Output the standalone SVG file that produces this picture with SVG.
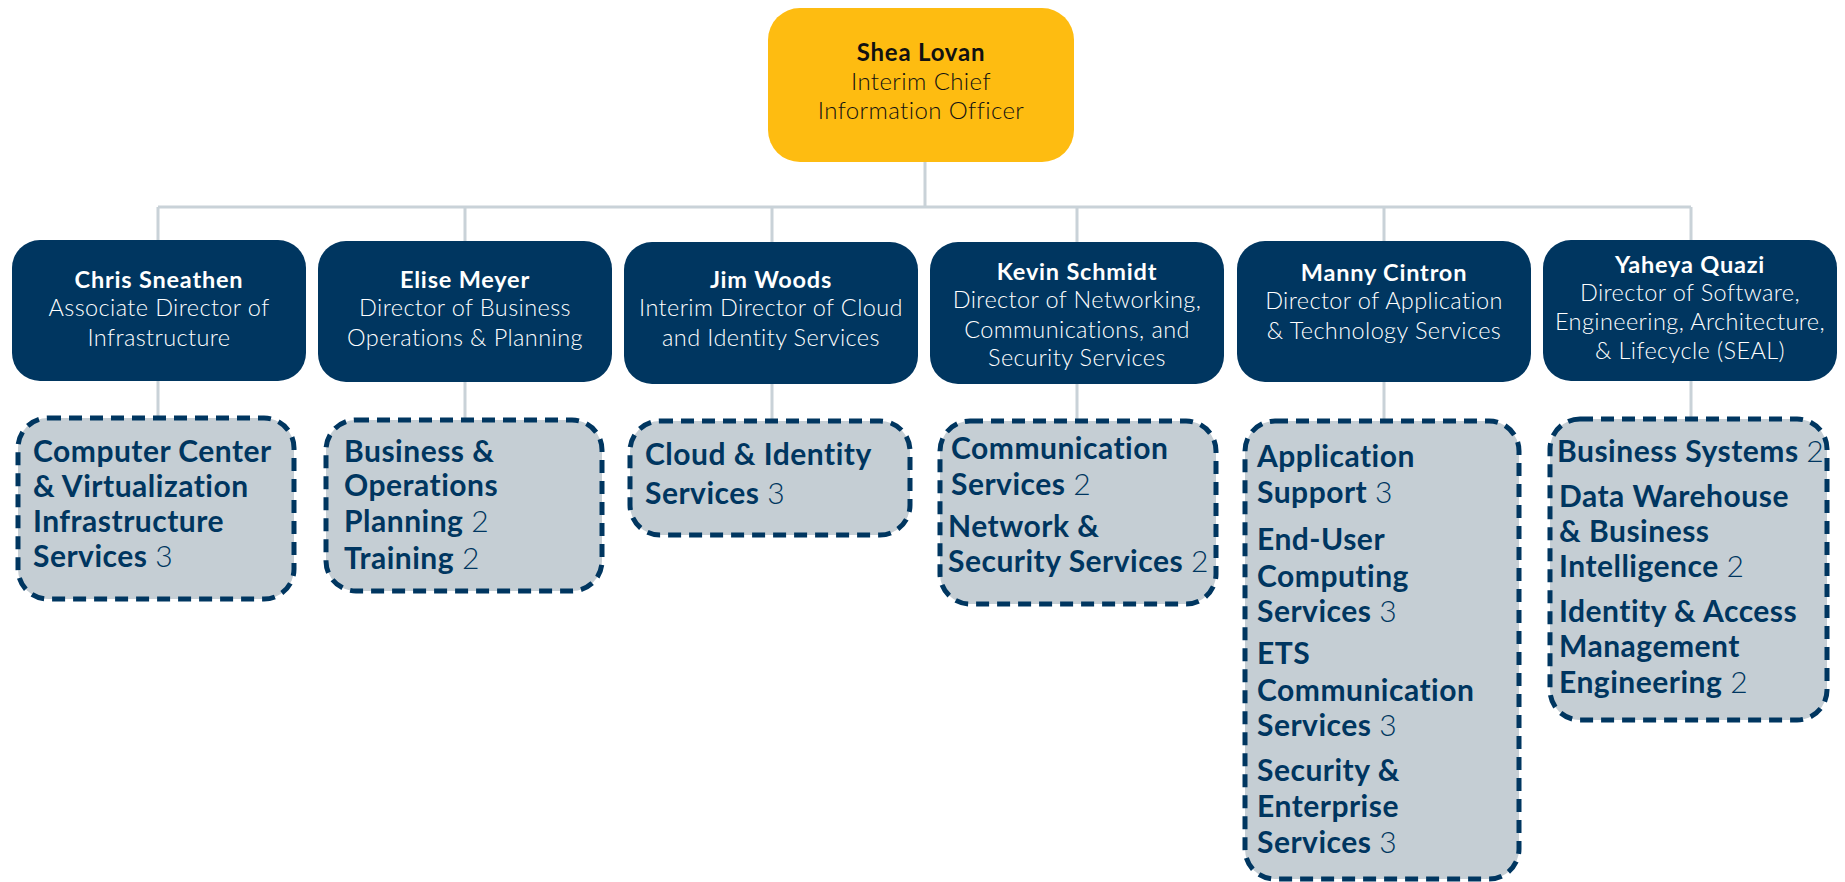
<svg xmlns="http://www.w3.org/2000/svg" width="1845" height="882" viewBox="0 0 1845 882">
<style>
.top{fill:#FEBC11}
.dir{fill:#003660}
.grp{fill:#C5CED4;stroke:#003660;stroke-width:5;stroke-dasharray:13 8}
.con{stroke:#C9D2D8;stroke-width:3;fill:none}
.tt{font-family:Lato,"Liberation Sans",sans-serif;font-size:24px;fill:#111;text-anchor:middle;letter-spacing:0.4px}
.dt{font-family:Lato,"Liberation Sans",sans-serif;font-size:23.5px;fill:#fff;text-anchor:middle;letter-spacing:0.4px}
.b{font-weight:700;letter-spacing:0.8px}
.l{font-weight:300}
.gt{font-family:Lato,"Liberation Sans",sans-serif;font-size:30px;font-weight:700;fill:#003660;letter-spacing:0.5px}
.n{font-weight:300}
</style>
<rect width="1845" height="882" fill="#fff"/>
<g id="connectors">
<path class="con" d="M925 162V207M158 207H1691M158 207V240M465 207V241M772 207V242M1077 207V242M1384 207V241M1691 207V240"/>
<path class="con" d="M158 381V418M465 382V420M772 384V421M1077 384V421M1384 382V421M1691 381V419"/>
</g>
<g id="cio">
<rect class="top" x="768" y="8" width="306" height="154" rx="32"/>
<text class="tt"><tspan class="b" x="921" y="61">Shea Lovan</tspan><tspan class="l" x="921" y="90">Interim Chief</tspan><tspan class="l" x="921" y="119">Information Officer</tspan></text>
</g>
<g id="chris">
<rect class="dir" x="12" y="240" width="294" height="141" rx="28"/>
<text class="dt"><tspan class="b" x="159" y="288">Chris Sneathen</tspan><tspan class="l" x="159" y="316">Associate Director of</tspan><tspan class="l" x="159" y="346">Infrastructure</tspan></text>
</g>
<g id="elise">
<rect class="dir" x="318" y="241" width="294" height="141" rx="28"/>
<text class="dt"><tspan class="b" x="465" y="288">Elise Meyer</tspan><tspan class="l" x="465" y="316">Director of Business</tspan><tspan class="l" x="465" y="346">Operations &amp; Planning</tspan></text>
</g>
<g id="jim">
<rect class="dir" x="624" y="242" width="294" height="142" rx="28"/>
<text class="dt"><tspan class="b" x="771" y="288">Jim Woods</tspan><tspan class="l" x="771" y="316">Interim Director of Cloud</tspan><tspan class="l" x="771" y="346">and Identity Services</tspan></text>
</g>
<g id="kevin">
<rect class="dir" x="930" y="242" width="294" height="142" rx="28"/>
<text class="dt"><tspan class="b" x="1077" y="280">Kevin Schmidt</tspan><tspan class="l" x="1077" y="308">Director of Networking,</tspan><tspan class="l" x="1077" y="338">Communications, and</tspan><tspan class="l" x="1077" y="366">Security Services</tspan></text>
</g>
<g id="manny">
<rect class="dir" x="1237" y="241" width="294" height="141" rx="28"/>
<text class="dt"><tspan class="b" x="1384" y="281">Manny Cintron</tspan><tspan class="l" x="1384" y="309">Director of Application</tspan><tspan class="l" x="1384" y="339">&amp; Technology Services</tspan></text>
</g>
<g id="yaheya">
<rect class="dir" x="1543" y="240" width="294" height="141" rx="28"/>
<text class="dt"><tspan class="b" x="1690" y="273">Yaheya Quazi</tspan><tspan class="l" x="1690" y="301">Director of Software,</tspan><tspan class="l" x="1690" y="330">Engineering, Architecture,</tspan><tspan class="l" x="1690" y="359">&amp; Lifecycle (SEAL)</tspan></text>
</g>
<g id="g-chris">
<rect class="grp" x="18" y="418" width="276" height="181" rx="30"/>
<text class="gt"><tspan x="33" y="462">Computer Center</tspan><tspan x="33" y="497">&amp; Virtualization</tspan><tspan x="33" y="532">Infrastructure</tspan><tspan x="33" y="567">Services <tspan class="n">3</tspan></tspan></text>
</g>
<g id="g-elise">
<rect class="grp" x="326" y="420" width="276" height="171" rx="30"/>
<text class="gt"><tspan x="344" y="462">Business &amp;</tspan><tspan x="344" y="496">Operations</tspan><tspan x="344" y="532">Planning <tspan class="n">2</tspan></tspan><tspan x="344" y="569">Training <tspan class="n">2</tspan></tspan></text>
</g>
<g id="g-jim">
<rect class="grp" x="630" y="421" width="280" height="114" rx="30"/>
<text class="gt"><tspan x="645" y="465">Cloud &amp; Identity</tspan><tspan x="645" y="504">Services <tspan class="n">3</tspan></tspan></text>
</g>
<g id="g-kevin">
<rect class="grp" x="940" y="421" width="276" height="183" rx="30"/>
<text class="gt"><tspan x="951" y="459">Communication</tspan><tspan x="951" y="495">Services <tspan class="n">2</tspan></tspan><tspan x="948" y="537">Network &amp;</tspan><tspan x="948" y="572">Security Services <tspan class="n">2</tspan></tspan></text>
</g>
<g id="g-manny">
<rect class="grp" x="1245" y="421" width="274" height="458" rx="30"/>
<text class="gt"><tspan x="1257" y="467">Application</tspan><tspan x="1257" y="503">Support <tspan class="n">3</tspan></tspan><tspan x="1257" y="550">End-User</tspan><tspan x="1257" y="587">Computing</tspan><tspan x="1257" y="622">Services <tspan class="n">3</tspan></tspan><tspan x="1257" y="664">ETS</tspan><tspan x="1257" y="701">Communication</tspan><tspan x="1257" y="736">Services <tspan class="n">3</tspan></tspan><tspan x="1257" y="781">Security &amp;</tspan><tspan x="1257" y="817">Enterprise</tspan><tspan x="1257" y="853">Services <tspan class="n">3</tspan></tspan></text>
</g>
<g id="g-yaheya">
<rect class="grp" x="1550" y="419" width="277" height="301" rx="30"/>
<text class="gt"><tspan x="1557" y="462">Business Systems <tspan class="n">2</tspan></tspan><tspan x="1559" y="507">Data Warehouse</tspan><tspan x="1559" y="542">&amp; Business</tspan><tspan x="1559" y="577">Intelligence <tspan class="n">2</tspan></tspan><tspan x="1559" y="622">Identity &amp; Access</tspan><tspan x="1559" y="657">Management</tspan><tspan x="1559" y="693">Engineering <tspan class="n">2</tspan></tspan></text>
</g>
</svg>
